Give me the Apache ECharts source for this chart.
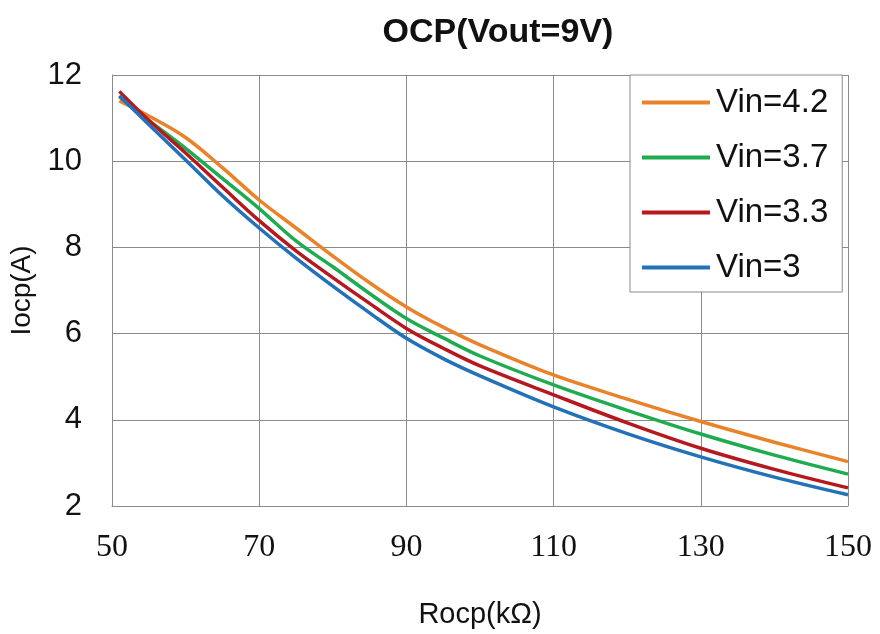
<!DOCTYPE html>
<html>
<head>
<meta charset="utf-8">
<script src="https://cdn.jsdelivr.net/npm/echarts@6/dist/echarts.min.js"></script>
<style>html,body{margin:0;padding:0;background:#fff}#c{width:880px;height:634px}</style>
</head>
<body>
<div id="c"></div>
<script>
const rocp = [51, 55, 60, 65, 70, 75, 80, 85, 90, 95, 100, 110, 120, 130, 140, 150];
const vin42 = [11.40, 11.05, 10.55, 9.85, 9.10, 8.45, 7.80, 7.18, 6.62, 6.15, 5.74, 5.04, 4.48, 3.96, 3.48, 3.03];
const vin37 = [11.50, 10.95, 10.30, 9.60, 8.90, 8.15, 7.55, 6.93, 6.35, 5.90, 5.48, 4.81, 4.22, 3.67, 3.18, 2.74];
const vin33 = [11.62, 10.95, 10.19, 9.40, 8.62, 7.92, 7.30, 6.70, 6.12, 5.66, 5.25, 4.58, 3.93, 3.34, 2.85, 2.42];
const vin30 = [11.52, 10.85, 10.03, 9.20, 8.45, 7.75, 7.10, 6.48, 5.89, 5.42, 5.02, 4.30, 3.68, 3.14, 2.67, 2.26];
const seriesNames = ['Vin=4.2', 'Vin=3.7', 'Vin=3.3', 'Vin=3'];
const seriesData = [vin42, vin37, vin33, vin30];
const colors = ['#e8832a', '#1fab50', '#b5191f', '#2271b9'];

const chart = echarts.init(document.getElementById('c'));
chart.setOption({
  animation: false,
  backgroundColor: '#fff',
  title: {
    text: 'OCP(Vout=9V)',
    left: 493, top: 11, textAlign: 'center',
    textStyle: {fontFamily: 'Liberation Sans', fontWeight: 'bold', fontSize: 34, color: '#111'}
  },
  grid: {left: 112, right: 32, top: 75, bottom: 128},
  legend: {
    orient: 'vertical', left: 630, top: 75,
    padding: [11, 14, 8, 12],
    itemWidth: 68, itemHeight: 4, itemGap: 22,
    icon: 'rect',
    backgroundColor: '#fff', borderColor: '#8a8a8a', borderWidth: 1,
    textStyle: {fontFamily: 'Liberation Sans', fontSize: 33, color: '#111', padding: [0,0,0,1]},
    data: seriesNames
  },
  xAxis: {
    type: 'value', min: 50, max: 150, interval: 20,
    name: 'Rocp(kΩ)', nameLocation: 'middle', nameGap: 94,
    nameTextStyle: {fontFamily: 'Liberation Sans', fontSize: 29, color: '#111'},
    axisLine: {show: true, lineStyle: {color: '#8a8a8a', width: 1}},
    axisTick: {show: false},
    axisLabel: {fontFamily: 'Liberation Serif', fontSize: 32, color: '#111', margin: 26},
    splitLine: {show: true, lineStyle: {color: '#8a8a8a', width: 1}}
  },
  yAxis: {
    type: 'value', min: 2, max: 12, interval: 2,
    name: 'Iocp(A)', nameLocation: 'middle', nameGap: 58,
    nameTextStyle: {fontFamily: 'Liberation Sans', fontSize: 28, color: '#111'},
    axisLine: {show: true, lineStyle: {color: '#8a8a8a', width: 1}},
    axisTick: {show: false},
    axisLabel: {fontFamily: 'Liberation Sans', fontSize: 31, color: '#111', margin: 30},
    splitLine: {show: true, lineStyle: {color: '#8a8a8a', width: 1}}
  },
  series: seriesNames.map((n, i) => ({
    name: n, type: 'line', smooth: 0.35, symbol: 'none',
    color: colors[i],
    lineStyle: {width: 3.5, color: colors[i]},
    data: rocp.map((x, j) => [x, seriesData[i][j]])
  }))
});
</script>
</body>
</html>
